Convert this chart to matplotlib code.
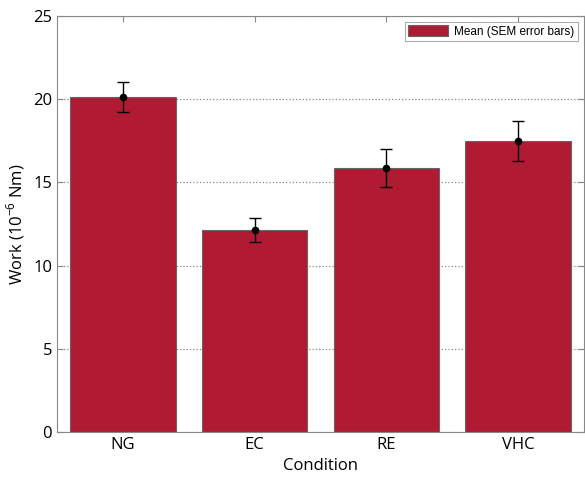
import matplotlib
matplotlib.use("Agg")
import matplotlib.pyplot as plt
import numpy as np

conditions = ["NG", "EC", "RE", "VHC"]
work_mean = [20.15, 12.14, 15.88, 17.5]
work_sem = [0.9, 0.73, 1.15, 1.2]
yticks = [0, 5, 10, 15, 20, 25]

BAR_COLOR = "#b01a33"
plt.rcParams["axes.unicode_minus"] = False
plt.rcParams["mathtext.fontset"] = "custom"
plt.rcParams["mathtext.rm"] = "Open Sans"

fig = plt.figure(figsize=(5.85, 4.82), dpi=100)
ax = fig.add_axes([0.0974, 0.1037, 0.9009, 0.863])

x = np.arange(1, len(conditions) + 1)
ax.bar(x, work_mean, width=0.8, color=BAR_COLOR, edgecolor="#666666",
       linewidth=0.8, label="Mean (SEM error bars)", zorder=2)
ax.errorbar(x, work_mean, yerr=work_sem, fmt="o", color="black",
            markersize=4.5, capsize=4, elinewidth=1, capthick=1, zorder=3)

ax.set_xlim(0.5, 4.5)
ax.set_ylim(0, 25)
ax.set_xticks(x)
ax.set_xticklabels(conditions)
ax.set_yticks(yticks)
ax.yaxis.grid(True, linestyle=":", color="#888888", linewidth=0.9, zorder=0)
ax.set_axisbelow(True)
ax.tick_params(direction="in", top=True, right=True, length=4,
               color="#888888", labelsize=12)
for lbl in ax.get_xticklabels() + ax.get_yticklabels():
    lbl.set_family(["Open Sans", "DejaVu Sans"])
for s in ax.spines.values():
    s.set_color("#888888")

ax.set_xlabel("Condition", fontsize=12, family=["Open Sans", "DejaVu Sans"])
ax.set_ylabel("Work (10$^{\\mathregular{-6}}$ Nm)", fontsize=12,
              family=["Open Sans", "DejaVu Sans"])

leg = ax.legend(loc="upper right", frameon=True, fancybox=False,
                borderpad=0.3, handlelength=3.4, handleheight=1.0,
                handletextpad=0.5, borderaxespad=0.5,
                prop={"family": "Liberation Sans", "size": 8.5})
leg.get_frame().set_edgecolor("#999999")
leg.get_frame().set_linewidth(0.8)

fig.savefig("out.png", dpi=100)
